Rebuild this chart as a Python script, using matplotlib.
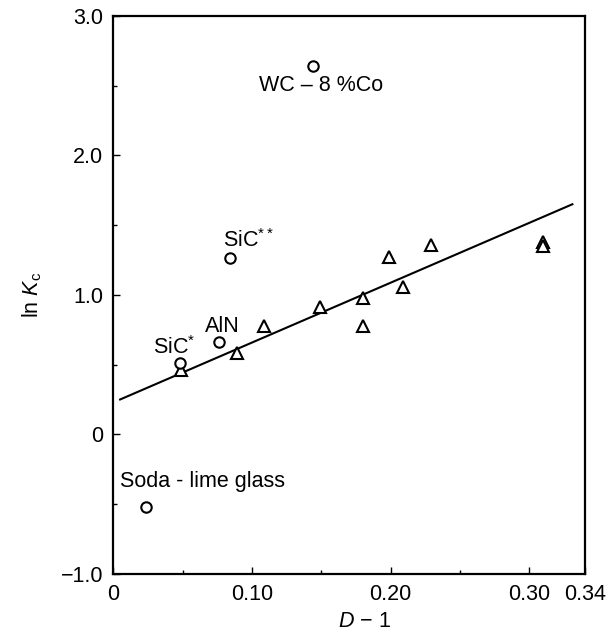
# ln Kc versus D-1, with the linear fit through the triangle data

import matplotlib.pyplot as plt
import numpy as np
from matplotlib.ticker import FixedLocator, MultipleLocator

plt.rcParams['font.family'] = ['Liberation Sans', 'DejaVu Sans']
plt.rcParams['mathtext.fontset'] = 'custom'
plt.rcParams['mathtext.rm'] = 'Liberation Sans'
plt.rcParams['mathtext.it'] = 'Liberation Sans:italic'

# open circles (labelled materials)
circ_names = ["WC - 8 %Co", "SiC**", "AlN", "SiC*", "Soda - lime glass"]
circ_x = [0.144, 0.084, 0.076, 0.048, 0.024]
circ_y = [2.64, 1.265, 0.66, 0.51, -0.52]

# triangles
tri_x = [0.049, 0.089, 0.109, 0.149, 0.180, 0.180, 0.199, 0.209, 0.229, 0.310, 0.310]
tri_y = [0.46, 0.58, 0.78, 0.91, 0.98, 0.78, 1.27, 1.06, 1.36, 1.38, 1.35]

# fitted line end points
fit_x = [0.005, 0.331]
fit_y = [0.25, 1.65]

xticks = [0, 0.10, 0.20, 0.30, 0.34]
xticklabels = ["0", "0.10", "0.20", "0.30", "0.34"]
yticks = [-1.0, 0, 1.0, 2.0, 3.0]
yticklabels = ["\u22121.0", "0", "1.0", "2.0", "3.0"]

fig = plt.figure(figsize=(6.15, 6.39), dpi=100)
ax = fig.add_axes([0.184, 0.102, 0.767, 0.873])

ax.plot(fit_x, fit_y, color="black", lw=1.5, zorder=2)
ax.plot(tri_x, tri_y, ls="none", marker="^", ms=9, mfc="white", mec="black",
        mew=1.5, zorder=3)
ax.plot(circ_x, circ_y, ls="none", marker="o", ms=7.5, mfc="white", mec="black",
        mew=1.5, zorder=3)

fs = 15.5
ax.text(0.150, 2.505, "WC \u2013 8 %Co", fontsize=fs, ha="center", va="center")
ax.text(0.079, 1.39, "SiC$^{**}$", fontsize=fs, ha="left", va="center")
ax.text(0.066, 0.77, "AlN", fontsize=fs, ha="left", va="center")
ax.text(0.029, 0.62, "SiC$^{*}$", fontsize=fs, ha="left", va="center")
ax.text(0.005, -0.34, "Soda - lime glass", fontsize=fs, ha="left", va="center")

ax.set_xlim(0, 0.34)
ax.set_ylim(-1.0, 3.0)
ax.xaxis.set_major_locator(FixedLocator(xticks))
ax.set_xticklabels(xticklabels)
ax.xaxis.set_minor_locator(FixedLocator([0.05, 0.15, 0.25]))
ax.yaxis.set_major_locator(FixedLocator(yticks))
ax.set_yticklabels(yticklabels)
ax.yaxis.set_minor_locator(MultipleLocator(0.5))

ax.tick_params(which="both", direction="in", labelsize=fs, width=1.0)
ax.tick_params(which="major", length=5, pad=7)
ax.tick_params(which="minor", length=3)
for s in ax.spines.values():
    s.set_linewidth(1.6)

ax.set_xlabel("$D$ \u2212 1", fontsize=fs)
ax.xaxis.set_label_coords(0.532, -0.066)
ax.set_ylabel("ln $K_{\\rm c}$", fontsize=fs, labelpad=12)

plt.savefig("out.png", dpi=100)
